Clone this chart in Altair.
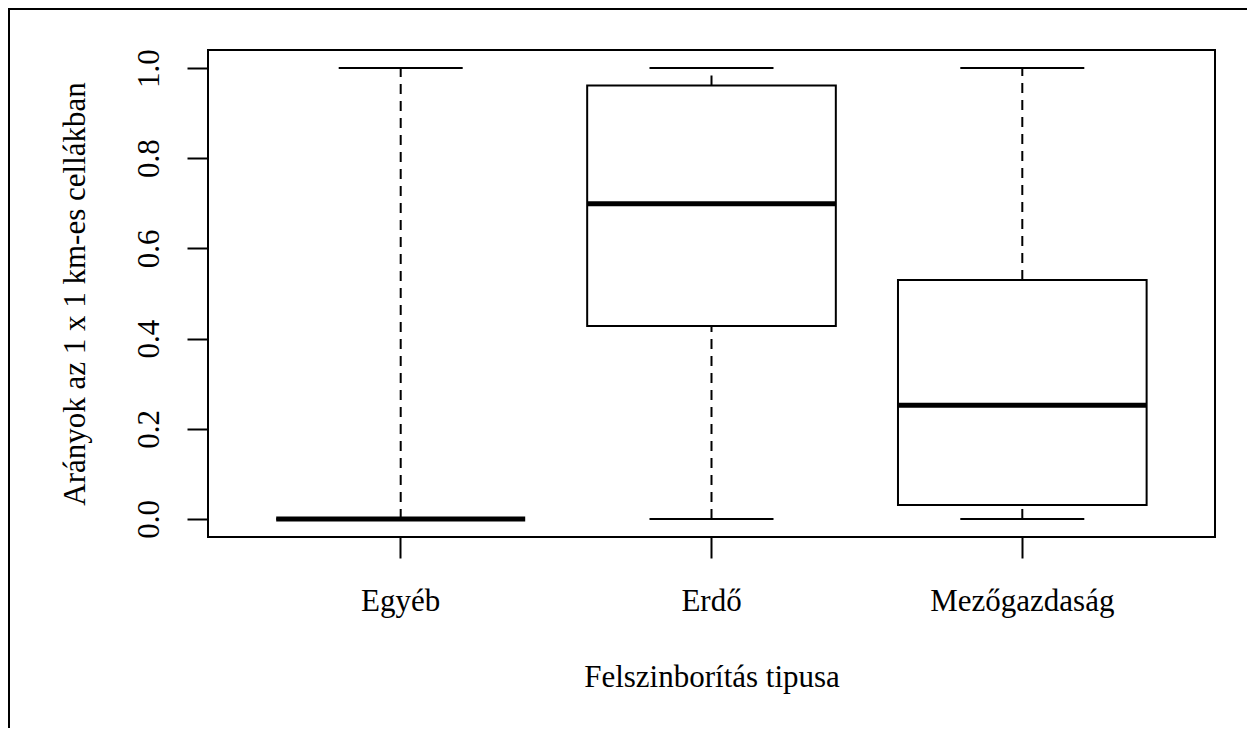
import altair as alt
import pandas as pd

categories = ["Egyéb", "Erdő", "Mezőgazdaság"]
whisker_low = [0.0, 0.0, 0.0]
quartile1 = [0.0, 0.428, 0.031]
medians = [0.0, 0.699, 0.252]
quartile3 = [0.0, 0.961, 0.530]
whisker_high = [1.0, 1.0, 1.0]
y_ticks = [0.0, 0.2, 0.4, 0.6, 0.8, 1.0]

x_title = "Felszinborítás tipusa"
y_title = "Arányok az 1 x 1 km-es cellákban"

df = pd.DataFrame({
    "cat": categories,
    "lo": whisker_low,
    "q1": quartile1,
    "med": medians,
    "q3": quartile3,
    "hi": whisker_high,
})

FONT = "Liberation Serif"
FS = 31
W, H = 1007, 487

x_axis = alt.Axis(
    title=x_title, labelAngle=0, domain=False, grid=False,
    tickSize=21, tickColor="black", tickWidth=2,
    labelFont=FONT, labelFontSize=FS, labelColor="black", labelPadding=28,
    labelLimit=0,
    titleFont=FONT, titleFontSize=FS, titleFontWeight="normal", titleColor="black",
    titleBaseline="alphabetic", titleY=149,
)
y_axis = alt.Axis(
    title=y_title, values=y_ticks, format=".1f", domain=False, grid=False,
    tickSize=21, tickColor="black", tickWidth=2,
    labelAngle=270, labelAlign="center", labelBaseline="alphabetic",
    labelFlush=False, labelOverlap=False,
    labelFont=FONT, labelFontSize=FS, labelColor="black", labelPadding=29,
    titleFont=FONT, titleFontSize=FS, titleFontWeight="normal", titleColor="black",
    titleAngle=270, titleBaseline="alphabetic", titleX=-124,
)

x_enc = alt.X("cat:N", sort=categories,
              scale=alt.Scale(paddingInner=0, paddingOuter=0.12), axis=x_axis)
y_scale = alt.Scale(domain=[-0.04, 1.04], nice=False, zero=False)

base = alt.Chart(df).encode(x=x_enc)

upper_whisker = base.mark_rule(color="black", strokeWidth=2, strokeDash=[10, 7]).encode(
    y=alt.Y("q3:Q", scale=y_scale, axis=y_axis), y2="hi:Q")
lower_whisker = base.mark_rule(color="black", strokeWidth=2, strokeDash=[10, 7]).encode(
    y=alt.Y("lo:Q", scale=y_scale, axis=y_axis), y2="q1:Q")
cap_hi = base.mark_tick(color="black", size=124, thickness=2, opacity=1).encode(
    y=alt.Y("hi:Q", scale=y_scale, axis=y_axis))
cap_lo = base.mark_tick(color="black", size=124, thickness=2, opacity=1).encode(
    y=alt.Y("lo:Q", scale=y_scale, axis=y_axis))
box = base.mark_bar(fill="white", stroke="black", strokeWidth=2, opacity=1,
                    width=alt.RelativeBandSize(0.8)).encode(
    y=alt.Y("q1:Q", scale=y_scale, axis=y_axis), y2="q3:Q")
median = base.mark_tick(color="black", size=249, thickness=5, opacity=1).encode(
    y=alt.Y("med:Q", scale=y_scale, axis=y_axis))

frame_df = pd.DataFrame({"k": [0]})
top_border = alt.Chart(frame_df).mark_rule(color="black", strokeWidth=2).encode(
    x=alt.value(-200), x2=alt.value(1040), y=alt.value(-41))
left_border = alt.Chart(frame_df).mark_rule(color="black", strokeWidth=2).encode(
    x=alt.value(-199), y=alt.value(-42), y2=alt.value(700))

chart = alt.layer(
    upper_whisker, lower_whisker, cap_hi, cap_lo, box, median, top_border, left_border
).properties(
    width=W, height=H,
    padding={"left": 200, "top": 42, "right": 32, "bottom": 191},
    autosize=alt.AutoSizeParams(type="none"),
    background="white",
).configure_view(stroke="black", strokeWidth=2)

chart.save("out.html", embed_options={"renderer": "svg", "actions": False})
